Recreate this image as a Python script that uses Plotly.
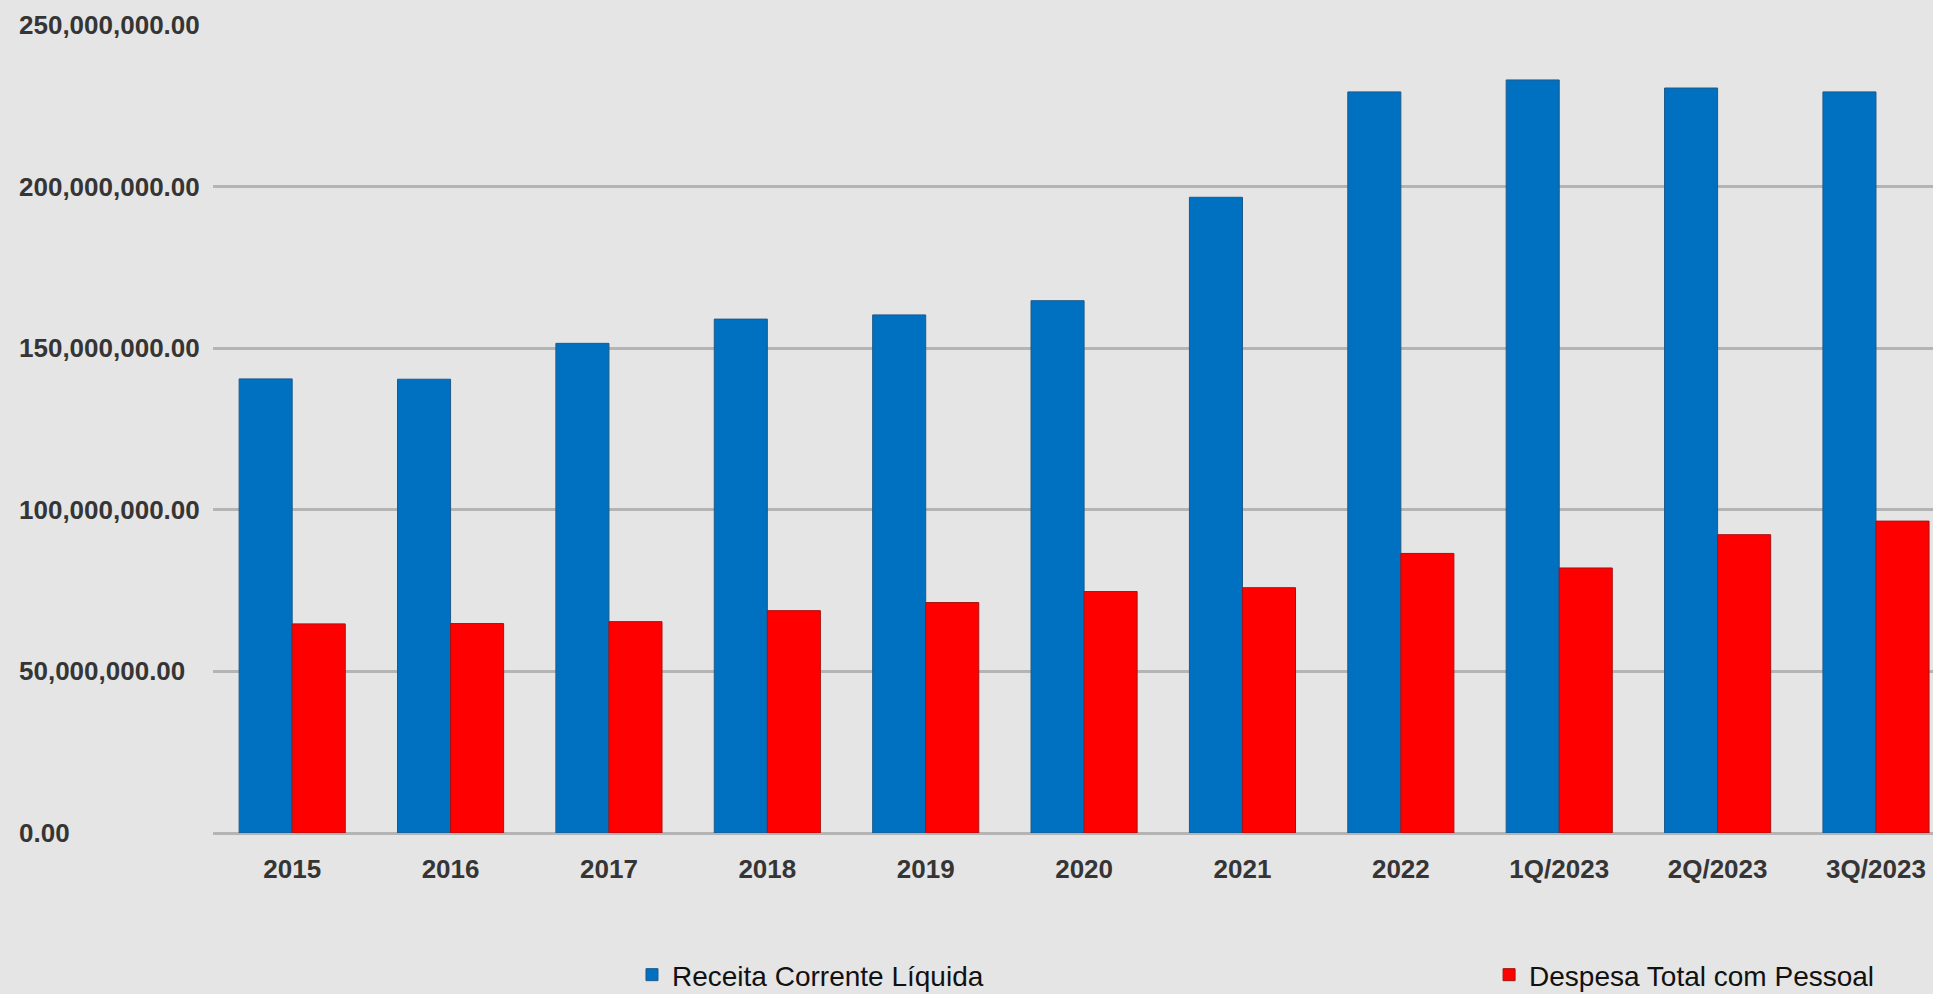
import plotly.graph_objects as go

categories = ["2015", "2016", "2017", "2018", "2019", "2020", "2021", "2022",
              "1Q/2023", "2Q/2023", "3Q/2023"]
receita = [140.5e6, 140.4e6, 151.5e6, 159.0e6, 160.3e6, 164.7e6, 196.7e6,
           229.3e6, 233.0e6, 230.5e6, 229.3e6]
despesa = [64.7e6, 64.8e6, 65.4e6, 68.8e6, 71.3e6, 74.7e6, 75.9e6,
           86.5e6, 82.0e6, 92.3e6, 96.5e6]
ytick_vals = [0, 50e6, 100e6, 150e6, 200e6, 250e6]
ytick_text = [f"{v:,.2f}" for v in ytick_vals]

BG = "#e5e5e5"
GRID = "#b4b4b4"
FONT = "Liberation Sans, Arial, sans-serif"
TXT = "#353535"

fig = go.Figure()
fig.add_trace(go.Bar(x=categories, y=receita, name="Receita Corrente Líquida",
                     legend="legend",
                     marker=dict(color="#0070c0", line=dict(color="#1c5a8c", width=1))))
fig.add_trace(go.Bar(x=categories, y=despesa, name="Despesa Total com Pessoal",
                     legend="legend2",
                     marker=dict(color="#ff0000", line=dict(color="#a81010", width=1))))

for v, t in zip(ytick_vals, ytick_text):
    fig.add_annotation(x=-0.114, xref="paper", y=v, yref="y", text=t,
                       showarrow=False, xanchor="left", yanchor="middle",
                       font=dict(family=FONT, size=26, color=TXT, weight="bold"))

legend_common = dict(orientation="h", xanchor="left", y=-0.1757, yanchor="middle",
                     font=dict(family=FONT, size=28, color="#111111"),
                     bgcolor="rgba(0,0,0,0)")

fig.update_layout(
    width=1933, height=994,
    margin=dict(l=213, r=0, t=25, b=161, pad=0, autoexpand=False),
    paper_bgcolor=BG, plot_bgcolor=BG,
    barmode="group", bargap=0.33, bargroupgap=0.0,
    showlegend=True,
    legend=dict(x=0.2436, **legend_common),
    legend2=dict(x=0.7419, **legend_common),
    xaxis=dict(range=[-0.5, 10.36], showgrid=False, showline=False, zeroline=False,
               ticks="outside", ticklen=13, tickcolor="rgba(0,0,0,0)",
               tickfont=dict(family=FONT, size=26, color=TXT, weight="bold")),
    yaxis=dict(range=[0, 250e6], tickvals=ytick_vals, showticklabels=False,
               showgrid=True, gridcolor=GRID, gridwidth=3,
               zeroline=True, zerolinecolor=GRID, zerolinewidth=3, showline=False),
)

fig.write_html("out.html", config={"displayModeBar": False},
               post_script="document.body.style.margin='0';document.body.style.background='" + BG + "';")
